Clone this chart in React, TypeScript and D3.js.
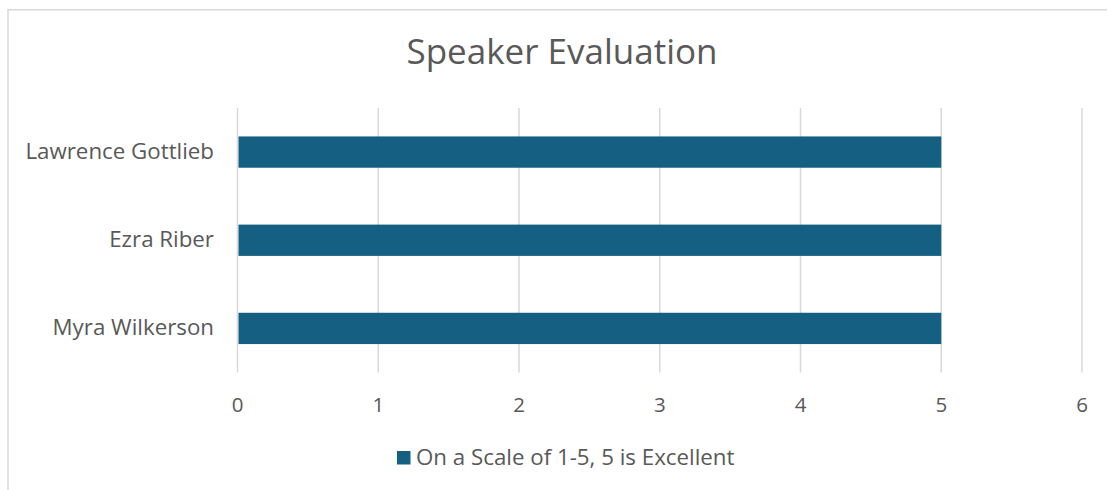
import React from "react";
import * as d3 from "d3";

const categories = ["Lawrence Gottlieb", "Ezra Riber", "Myra Wilkerson"];
const values = [5, 5, 5];
const xTicks = [0, 1, 2, 3, 4, 5, 6];
const seriesName = "On a Scale of 1-5, 5 is Excellent";
const title = "Speaker Evaluation";

const W = 1107;
const H = 490;
const FONT = "'Open Sans', 'Liberation Sans', sans-serif";
const TEXT = "#595959";
const GRID = "#d9d9d9";
const BAR = "#156082";

export default function App() {
  const x = d3.scaleLinear().domain([0, 6]).range([237.5, 1082]);
  const y = d3.scaleBand<string>().domain(categories).range([108, 372.5]).paddingInner(0.645).paddingOuter(0.3225);
  return (
    <svg width={W} height={H} style={{ position: "absolute", left: 0, top: 0, background: "#fff" }}>
      <rect x={8} y={9.75} width={W + 10} height={H + 10} fill="#fff" stroke={GRID} strokeWidth={1.5} />
      <text x={562} y={64} textAnchor="middle" fontFamily={FONT} fontSize={35} fill={TEXT}>{title}</text>
      {xTicks.map((t) => (
        <g key={t}>
          <line x1={x(t)} x2={x(t)} y1={108} y2={372.5} stroke={GRID} strokeWidth={1.5} />
          <text x={x(t)} y={412} textAnchor="middle" fontFamily={FONT} fontSize={20.5} fill={TEXT}>{t}</text>
        </g>
      ))}
      {categories.map((c, i) => (
        <g key={c}>
          <rect x={x(0) + 1} y={y(c)} width={x(values[i]) - x(0) - 1} height={y.bandwidth()} fill={BAR} />
          <text x={214} y={(y(c) as number) + y.bandwidth() / 2 + 7} textAnchor="end" fontFamily={FONT} fontSize={22.3} fill={TEXT}>{c}</text>
        </g>
      ))}
      <rect x={397} y={451} width={13.5} height={13.5} fill={BAR} />
      <text x={416} y={464.5} fontFamily={FONT} fontSize={22.3} fill={TEXT}>{seriesName}</text>
    </svg>
  );
}
